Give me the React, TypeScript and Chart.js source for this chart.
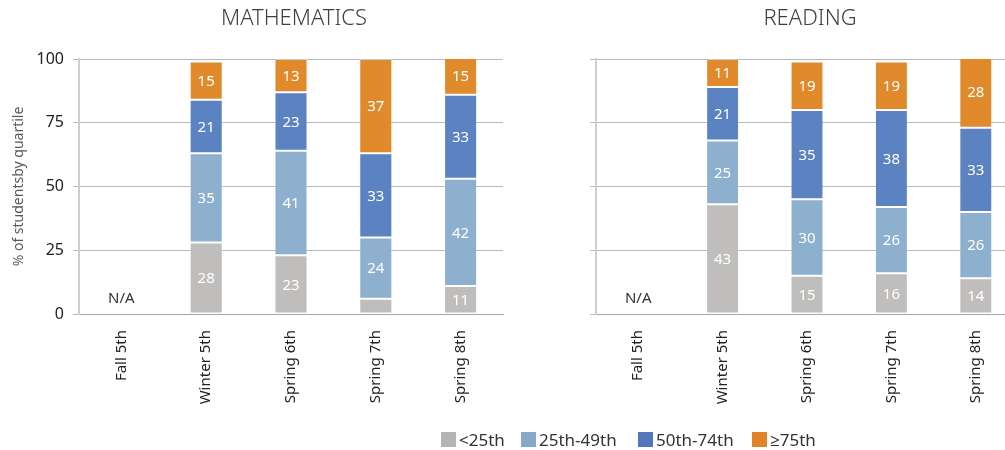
import React, { useEffect, useRef } from "react";
import { Chart, registerables } from "chart.js";

Chart.register(...registerables);

const categories = ["Fall 5th", "Winter 5th", "Spring 6th", "Spring 7th", "Spring 8th"];
const seriesNames = ["<25th", "25th-49th", "50th-74th", "\u226575th"];
const seriesColors = ["#BFBEBC", "#8DB0CE", "#5B82C1", "#E08A2B"];
const legendColors = ["#B4B4B4", "#87A9C8", "#5377BD", "#E08328"];

const mathBelow25 = [null, 28, 23, 6, 11];
const math25to49 = [null, 35, 41, 24, 42];
const math50to74 = [null, 21, 23, 33, 33];
const mathAbove75 = [null, 15, 13, 37, 15];

const readBelow25 = [null, 43, 15, 16, 14];
const read25to49 = [null, 25, 30, 26, 26];
const read50to74 = [null, 21, 35, 38, 33];
const readAbove75 = [null, 11, 19, 19, 28];

const yTicks = [0, 25, 50, 75, 100];
const naLabel = "N/A";
const naCategoryIndex = 0;
const naValue = 6;
const yTitle = "% of studentsby quartile";

const FONT = "'Noto Sans', 'Open Sans', sans-serif";

const labelsPlugin = {
  id: "customLabels",
  afterDatasetsDraw(chart: any, _args: any, opts: any) {
    const ctx = chart.ctx;
    ctx.save();
    ctx.font = `15px ${FONT}`;
    ctx.textAlign = "center";
    ctx.textBaseline = "middle";
    ctx.fillStyle = "#FFFFFF";
    chart.data.datasets.forEach((ds: any, i: number) => {
      const meta = chart.getDatasetMeta(i);
      meta.data.forEach((bar: any, j: number) => {
        const v = ds.data[j];
        if (v == null || v < 8) return;
        const p = bar.getProps(["x", "y", "base"], true);
        ctx.fillText(String(v), p.x, (p.y + p.base) / 2 + 1);
      });
    });
    // N/A
    const xs = chart.scales.x;
    const ys = chart.scales.y;
    ctx.fillStyle = "#333333";
    ctx.fillText(naLabel, xs.getPixelForValue(naCategoryIndex), ys.getPixelForValue(naValue));
    // title
    const ca = chart.chartArea;
    ctx.font = `300 22px ${FONT}`;
    ctx.fillStyle = "#404040";
    ctx.fillText(opts.title, (ca.left + ca.right) / 2 + 3, 19);
    ctx.restore();
  },
};

function makeConfig(title: string, series: (number | null)[][], showYLabels: boolean, yWidth: number, padRight: number) {
  return {
    type: "bar" as const,
    data: {
      labels: categories,
      datasets: series.map((d, i) => ({
        label: seriesNames[i],
        data: d,
        backgroundColor: seriesColors[i],
        borderColor: "rgba(255,255,255,0.3)",
        borderWidth: 1,
        borderSkipped: false,
        barPercentage: 0.39,
        categoryPercentage: 1,
      })),
    },
    options: {
      responsive: false,
      animation: false,
      devicePixelRatio: 1,
      layout: { padding: { top: 59, right: padRight, left: 0, bottom: 0 } },
      plugins: {
        legend: { display: false },
        tooltip: { enabled: false },
        title: { display: false },
        customLabels: { title },
      },
      scales: {
        x: {
          stacked: true,
          grid: { display: false, drawTicks: false },
          border: { display: true, color: "#A6A6A6", width: 1 },
          ticks: {
            autoSkip: false,
            minRotation: 90,
            maxRotation: 90,
            padding: 16,
            color: "#222222",
            font: { family: FONT, size: 15 },
          },
          afterFit(scale: any) {
            scale.height = 450 - 314;
          },
        },
        y: {
          stacked: true,
          min: 0,
          max: 100,
          afterBuildTicks(scale: any) {
            scale.ticks = yTicks.map((v) => ({ value: v }));
          },
          grid: { color: "#B8B8B8", lineWidth: 1, tickLength: 6, drawTicks: true },
          border: { display: true, color: "#CFCFCF", width: 2 },
          ticks: {
            display: showYLabels,
            padding: 9,
            color: "#222222",
            font: { family: FONT, size: 16 },
          },
          title: {
            display: showYLabels,
            text: yTitle,
            color: "#595959",
            font: { family: FONT, size: 14 },
            padding: { top: 11, bottom: 0 },
          },
          afterFit(scale: any) {
            scale.width = yWidth;
          },
        },
      },
    },
    plugins: [labelsPlugin],
  };
}

function ChartBox(props: { left: number; width: number; title: string; series: (number | null)[][]; showY: boolean; yWidth: number; padRight: number }) {
  const ref = useRef<HTMLCanvasElement>(null);
  useEffect(() => {
    if (!ref.current) return;
    const chart = new Chart(ref.current, makeConfig(props.title, props.series, props.showY, props.yWidth, props.padRight) as any);
    return () => chart.destroy();
  }, []);
  return (
    <canvas
      ref={ref}
      width={props.width}
      height={450}
      style={{ position: "absolute", left: props.left, top: 0, width: props.width, height: 450 }}
    />
  );
}

const legendLefts = [441, 521, 638, 752];

export default function App() {
  return (
    <div
      style={{
        position: "absolute",
        left: 0,
        top: 0,
        width: 1005,
        height: 450,
        overflow: "hidden",
        background: "#FFFFFF",
        fontFamily: FONT,
      }}
    >
      <ChartBox
        left={0}
        width={510}
        title="MATHEMATICS"
        series={[mathBelow25, math25to49, math50to74, mathAbove75]}
        showY={true}
        yWidth={79}
        padRight={7}
      />
      <ChartBox
        left={510}
        width={508}
        title="READING"
        series={[readBelow25, read25to49, read50to74, readAbove75]}
        showY={false}
        yWidth={86}
        padRight={0}
      />
      {seriesNames.map((name, i) => (
        <div
          key={name}
          style={{
            position: "absolute",
            left: legendLefts[i],
            top: 429,
            height: 20,
            display: "flex",
            alignItems: "center",
            fontSize: 17,
            color: "#333333",
            whiteSpace: "nowrap",
          }}
        >
          <span style={{ display: "inline-block", width: 15, height: 15, background: legendColors[i], marginRight: 3 }} />
          <span>{name}</span>
        </div>
      ))}
    </div>
  );
}
